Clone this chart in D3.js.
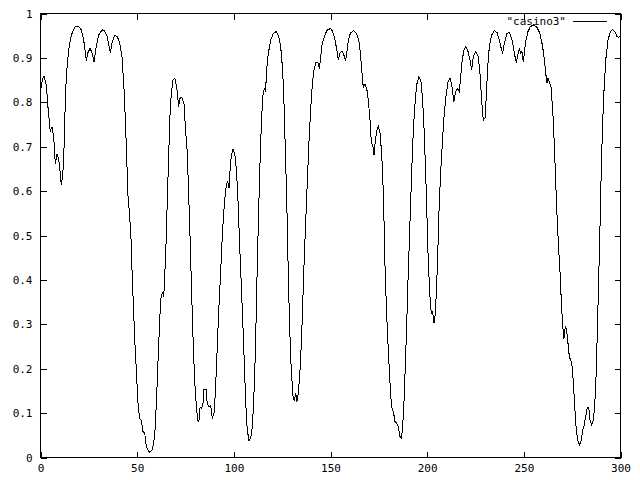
<!DOCTYPE html>
<html>
<head>
<meta charset="utf-8">
<script src="https://cdn.jsdelivr.net/npm/d3@7"></script>
<style>
html,body{margin:0;padding:0;background:#fff;}
svg{display:block;}
text{font-family:"DejaVu Sans Mono","Liberation Mono",monospace;font-size:11px;fill:#000;}
</style>
</head>
<body>
<svg id="chart" width="640" height="480"></svg>
<script>
const seriesName = '"casino3"';
const xTicks = [0, 50, 100, 150, 200, 250, 300];
const yTicks = [0, 0.1, 0.2, 0.3, 0.4, 0.5, 0.6, 0.7, 0.8, 0.9, 1];

const xValues = [
0,0.5,1.2,2.1,3.3,4.1,5.3,6.2,7.1,7.9,8.8,9.6,10.5,11.0,11.7,12.3,12.8,13.6,14.8,16.2,17.9,19.7,21.4,22.6,24.0,24.8,25.9,27.1,27.9,29.1,30.3,32.1,33.4,34.8,36.4,37.2,38.6,40.0,41.2,42.4,43.4,44.3,45.0,45.5,46.4,47.2,47.7,48.4,49.1,50.0,50.7,51.5,52.4,53.3,54.2,55.0,56.7,58.1,59.3,60.2,61.0,61.7,62.4,63.3,64.0,64.5,65.2,65.9,66.6,67.2,67.9,68.8,69.7,70.7,71.7,72.4,73.4,74.5,75.3,
76.2,76.7,77.4,78.1,78.8,79.5,80.2,80.9,81.6,82.2,82.8,83.6,84.3,84.8,85.9,86.5,87.4,88.3,89.1,90.0,90.7,91.4,92.1,92.7,93.5,94.1,94.8,95.5,96.4,97.1,97.8,98.3,98.9,99.8,100.7,101.6,102.4,103.1,103.8,104.5,105.2,105.9,106.6,107.2,108.1,109.0,109.8,110.5,111.2,111.9,112.4,113.1,113.8,114.5,115.2,116.0,116.7,117.2,118.1,119.3,120.7,122.1,123.4,124.5,125.5,126.2,126.9,127.6,128.1,128.6,129.2,129.7,130.2,130.9,131.5,132.3,132.9,133.6,134.3,135.2,135.9,136.6,137.4,138.3,139.1,140.0,140.9,141.7,142.8,143.8,144.5,145.2,146.0,147.3,148.6,150.4,
151.4,152.6,153.4,154.3,155.2,156.2,157.2,158.1,158.8,159.5,160.6,162.1,163.8,165.2,166.0,166.7,167.2,168.0,169.0,169.8,170.7,171.4,172.1,172.8,173.4,174.2,175.0,175.9,176.7,177.3,177.9,178.4,179.1,179.8,180.7,181.4,182.1,182.8,183.6,184.5,185.3,186.2,186.9,187.6,188.3,189.0,189.7,190.3,191.0,191.7,192.4,193.1,194.0,194.8,196.0,197.1,197.9,198.6,199.3,200.0,200.5,201.2,201.9,202.4,203.1,203.8,204.5,205.2,205.9,206.5,207.4,208.3,209.1,210.0,211.0,212.1,213.1,214.1,215.0,216.0,216.9,217.6,218.4,219.3,220.3,221.4,222.4,223.3,224.1,225.4,
226.6,227.4,228.1,228.8,229.3,230.2,230.9,231.6,232.4,233.6,235.0,236.4,237.6,238.4,239.3,240.2,241.4,242.7,244.0,244.8,245.7,246.4,247.1,247.9,248.6,249.3,250.0,250.7,251.4,252.4,253.6,255.2,256.9,258.6,260.0,260.9,261.6,262.2,262.8,263.4,264.3,264.8,265.5,266.2,266.9,267.6,268.3,269.0,269.7,270.4,271.0,271.7,272.4,273.1,273.8,274.7,275.3,276.0,276.7,277.4,278.3,279.2,280.0,280.7,281.5,282.4,283.1,283.8,284.5,285.4,286.2,286.9,287.6,288.3,289.0,289.7,290.3,291.0,291.9,292.8,293.8,295.0,296.2,297.4,298.4,299.3,300
];

const yValues = [
0.815,0.83,0.85,0.857,0.838,0.789,0.733,0.744,0.721,0.661,0.682,0.673,0.639,0.613,0.631,0.676,0.759,0.857,0.917,0.950,0.968,0.971,0.962,0.939,0.893,0.911,0.920,0.909,0.889,0.924,0.950,0.962,0.960,0.947,0.909,0.932,0.950,0.947,0.932,0.902,0.834,0.744,0.654,0.590,0.541,0.481,0.406,0.331,0.256,0.181,0.121,0.087,0.083,0.057,0.053,0.023,0.010,0.016,0.046,0.121,0.211,0.286,0.354,0.372,0.361,0.406,0.481,0.586,0.684,0.766,0.819,0.849,0.853,0.834,0.789,0.808,0.810,0.795,0.736,
0.684,0.616,0.526,0.421,0.316,0.226,0.158,0.113,0.083,0.080,0.113,0.110,0.121,0.151,0.151,0.121,0.113,0.117,0.087,0.098,0.143,0.218,0.293,0.354,0.421,0.481,0.534,0.579,0.613,0.620,0.605,0.646,0.676,0.693,0.684,0.646,0.579,0.496,0.421,0.346,0.271,0.181,0.106,0.061,0.037,0.042,0.068,0.121,0.211,0.331,0.436,0.556,0.661,0.751,0.812,0.830,0.823,0.872,0.909,0.939,0.954,0.958,0.948,0.924,0.872,0.797,0.691,0.586,0.481,0.376,0.286,0.218,0.181,0.136,0.128,0.143,0.125,0.143,0.181,0.256,0.346,0.436,0.526,0.624,0.707,0.782,0.842,0.872,0.890,0.887,0.875,0.902,0.932,0.950,0.962,0.965,
0.958,0.939,0.920,0.895,0.910,0.915,0.905,0.892,0.915,0.940,0.955,0.960,0.954,0.932,0.894,0.857,0.833,0.840,0.830,0.804,0.759,0.707,0.703,0.680,0.710,0.736,0.744,0.729,0.684,0.631,0.541,0.436,0.346,0.271,0.196,0.136,0.110,0.102,0.080,0.076,0.068,0.046,0.042,0.068,0.128,0.211,0.301,0.391,0.481,0.571,0.661,0.736,0.797,0.838,0.857,0.845,0.804,0.744,0.661,0.571,0.481,0.406,0.346,0.324,0.327,0.301,0.324,0.391,0.481,0.571,0.654,0.721,0.774,0.812,0.845,0.854,0.834,0.800,0.823,0.830,0.823,0.857,0.894,0.917,0.924,0.913,0.894,0.872,0.902,0.913,
0.902,0.875,0.827,0.782,0.759,0.763,0.819,0.879,0.924,0.950,0.960,0.956,0.939,0.923,0.909,0.932,0.953,0.956,0.943,0.924,0.902,0.887,0.905,0.920,0.909,0.913,0.890,0.917,0.939,0.958,0.969,0.973,0.969,0.954,0.924,0.894,0.864,0.842,0.853,0.845,0.834,0.804,0.759,0.684,0.601,0.526,0.466,0.414,0.346,0.293,0.267,0.293,0.286,0.256,0.226,0.215,0.203,0.158,0.106,0.061,0.035,0.027,0.038,0.061,0.072,0.095,0.112,0.112,0.083,0.072,0.083,0.113,0.181,0.286,0.406,0.526,0.646,0.751,0.842,0.902,0.939,0.958,0.963,0.958,0.947,0.945,0.948
];

const data = xValues.map((xv, i) => ({x: xv, y: yValues[i]}));

const svg = d3.select("#chart");
const plotLeft = 40, plotRight = 620, plotTop = 13, plotBottom = 457;

const xScale = d3.scaleLinear().domain([0, 300]).range([plotLeft, plotRight]);
const yScale = d3.scaleLinear().domain([0, 1]).range([plotBottom, plotTop]);

// frame
svg.append("rect")
  .attr("x", plotLeft + 0.5).attr("y", plotTop + 0.5)
  .attr("width", plotRight - plotLeft).attr("height", plotBottom - plotTop)
  .attr("fill", "none").attr("stroke", "#000").attr("stroke-width", 1)
  .attr("shape-rendering", "crispEdges");

function styleAxis(g) {
  g.select(".domain").remove();
  g.selectAll(".tick line").attr("stroke", "#000").attr("shape-rendering", "crispEdges");
  g.selectAll(".tick text").attr("font-family", '"DejaVu Sans Mono","Liberation Mono",monospace').attr("font-size", 11).attr("fill", "#000");
}

svg.append("g")
  .attr("transform", `translate(0.5,${plotBottom + 0.5})`)
  .call(d3.axisBottom(xScale).tickValues(xTicks).tickSize(-6).tickPadding(7).tickFormat(d3.format("d")))
  .call(styleAxis);

svg.append("g")
  .attr("transform", `translate(0.5,${plotTop + 0.5})`)
  .call(d3.axisTop(xScale).tickValues(xTicks).tickSize(-6).tickFormat(""))
  .call(styleAxis);

svg.append("g")
  .attr("transform", `translate(${plotLeft + 0.5},0.5)`)
  .call(d3.axisLeft(yScale).tickValues(yTicks).tickSize(-6).tickPadding(8).tickFormat(d3.format(".1~f")))
  .call(styleAxis);

svg.append("g")
  .attr("transform", `translate(${plotRight + 0.5},0.5)`)
  .call(d3.axisRight(yScale).tickValues(yTicks).tickSize(-6).tickFormat(""))
  .call(styleAxis);

// series line
const line = d3.line().x(d => xScale(d.x)).y(d => yScale(d.y));
svg.append("path")
  .datum(data)
  .attr("d", line)
  .attr("fill", "none")
  .attr("stroke", "#000")
  .attr("stroke-width", 1)
  .attr("shape-rendering", "crispEdges");

// legend
const legend = svg.append("g");
legend.append("text")
  .attr("x", 566).attr("y", 25)
  .attr("text-anchor", "end")
  .text(seriesName);
legend.append("line")
  .attr("x1", 573).attr("x2", 607)
  .attr("y1", 21.5).attr("y2", 21.5)
  .attr("stroke", "#000").attr("stroke-width", 1)
  .attr("shape-rendering", "crispEdges");
</script>
</body>
</html>
